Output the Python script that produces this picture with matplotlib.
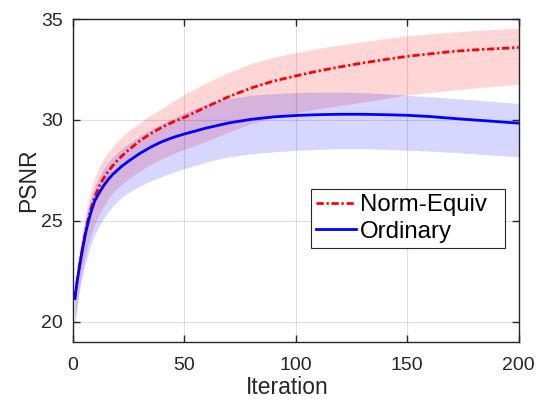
import matplotlib
matplotlib.use("Agg")
import matplotlib.pyplot as plt

plt.rcParams['font.family'] = ['Liberation Sans', 'DejaVu Sans']

iterations = [1, 2, 3, 4, 5, 6, 7, 8, 9, 10, 12, 14, 16, 18, 20, 22, 25, 30, 35, 40, 45, 50,
              55, 60, 70, 80, 90, 100, 110, 120, 130, 140, 150, 160, 170, 180, 190, 200]

norm_mean = [21.15, 21.97, 22.7, 23.35, 23.97, 24.55, 25.05, 25.5, 25.88, 26.2, 26.72, 27.12,
             27.45, 27.73, 27.98, 28.2, 28.5, 28.95, 29.32, 29.63, 29.9, 30.12, 30.38, 30.65,
             31.15, 31.58, 31.92, 32.18, 32.42, 32.63, 32.82, 32.99, 33.15, 33.27, 33.39, 33.47,
             33.53, 33.59]
norm_upper = [21.7, 22.6, 23.4, 24.15, 24.85, 25.45, 25.95, 26.4, 26.8, 27.15, 27.7, 28.08,
              28.4, 28.68, 28.93, 29.15, 29.45, 29.85, 30.23, 30.58, 30.92, 31.25, 31.55, 31.85,
              32.35, 32.8, 33.1, 33.34, 33.55, 33.72, 33.87, 34.03, 34.17, 34.27, 34.35, 34.43,
              34.5, 34.55]
norm_lower = [19.9, 20.9, 21.7, 22.35, 22.9, 23.4, 23.82, 24.2, 24.55, 24.85, 25.35, 25.75,
              26.1, 26.38, 26.62, 26.82, 27.08, 27.45, 27.8, 28.08, 28.32, 28.55, 28.75, 28.95,
              29.4, 29.82, 30.12, 30.35, 30.55, 30.72, 30.88, 31.06, 31.24, 31.36, 31.47, 31.58,
              31.68, 31.77]

ord_mean = [21.15, 21.95, 22.65, 23.3, 23.9, 24.45, 24.93, 25.33, 25.68, 26.0, 26.4, 26.75,
            27.05, 27.3, 27.5, 27.7, 27.95, 28.33, 28.65, 28.92, 29.13, 29.3, 29.45, 29.6,
            29.85, 30.03, 30.15, 30.22, 30.26, 30.28, 30.28, 30.26, 30.23, 30.17, 30.08, 30.0,
            29.92, 29.84]
ord_upper = [21.65, 22.5, 23.3, 24.0, 24.65, 25.2, 25.65, 26.05, 26.4, 26.7, 27.2, 27.6,
             27.9, 28.15, 28.37, 28.57, 28.82, 29.2, 29.53, 29.82, 30.08, 30.35, 30.58, 30.78,
             31.06, 31.22, 31.3, 31.36, 31.38, 31.38, 31.35, 31.3, 31.22, 31.15, 31.07, 30.99,
             30.9, 30.82]
ord_lower = [19.8, 20.7, 21.45, 22.05, 22.55, 23.0, 23.4, 23.75, 24.05, 24.32, 24.77, 25.13,
             25.45, 25.72, 25.95, 26.15, 26.4, 26.72, 26.98, 27.2, 27.4, 27.58, 27.75, 27.92,
             28.17, 28.32, 28.42, 28.49, 28.54, 28.57, 28.57, 28.54, 28.5, 28.46, 28.4, 28.32,
             28.25, 28.17]

x_ticks = [0, 50, 100, 150, 200]
y_ticks = [20, 25, 30, 35]

fig = plt.figure(figsize=(5.36, 4.0), dpi=100)
ax = fig.add_axes([0.1353, 0.145, 0.8324, 0.8075])

ax.fill_between(iterations, norm_lower, norm_upper, color=(1, 0, 0), alpha=0.16,
                linewidth=0, zorder=1)
ax.fill_between(iterations, ord_lower, ord_upper, color=(0, 0, 1), alpha=0.16,
                linewidth=0, zorder=1)
ax.plot(iterations, norm_mean, color='#ff0000', linestyle=(0, (2.6, 1.0, 0.8, 1.0)),
        linewidth=2.0, label='Norm-Equiv', zorder=3)
ax.plot(iterations, ord_mean, color='#0000ff', linestyle='-', linewidth=2.0,
        label='Ordinary', zorder=3)

ax.set_xlim(0, 200)
ax.set_ylim(19, 35)
ax.set_xticks(x_ticks)
ax.set_yticks(y_ticks)
ax.set_axisbelow(False)
ax.grid(True, color='#000000', alpha=0.12, linewidth=0.8)

for s in ax.spines.values():
    s.set_color('#262626')
    s.set_linewidth(1.0)
ax.tick_params(direction='in', length=5, width=1.0, color='#262626',
               top=True, right=True, labelsize=14, labelcolor='#262626')
ax.tick_params(axis='x', pad=11)
ax.tick_params(axis='y', pad=7)

ax.set_xlabel('Iteration', fontsize=16.5, color='#262626')
ax.xaxis.set_label_coords(0.482, -0.176, transform=ax.transAxes)
ax.xaxis.label.set_va('bottom')
ax.set_ylabel('PSNR', fontsize=16.5, color='#262626', labelpad=1)

leg = ax.legend(loc='upper left', bbox_to_anchor=(0.5345, 0.2796, 0.4345, 0.1932),
                mode='expand', fontsize=17.3,
                frameon=True, fancybox=False, framealpha=1, edgecolor='#262626',
                borderpad=0.2, handlelength=1.69, handletextpad=0.14, labelspacing=0.2,
                borderaxespad=0)
leg.get_frame().set_linewidth(0.8)

fig.savefig('out.png', dpi=100)
